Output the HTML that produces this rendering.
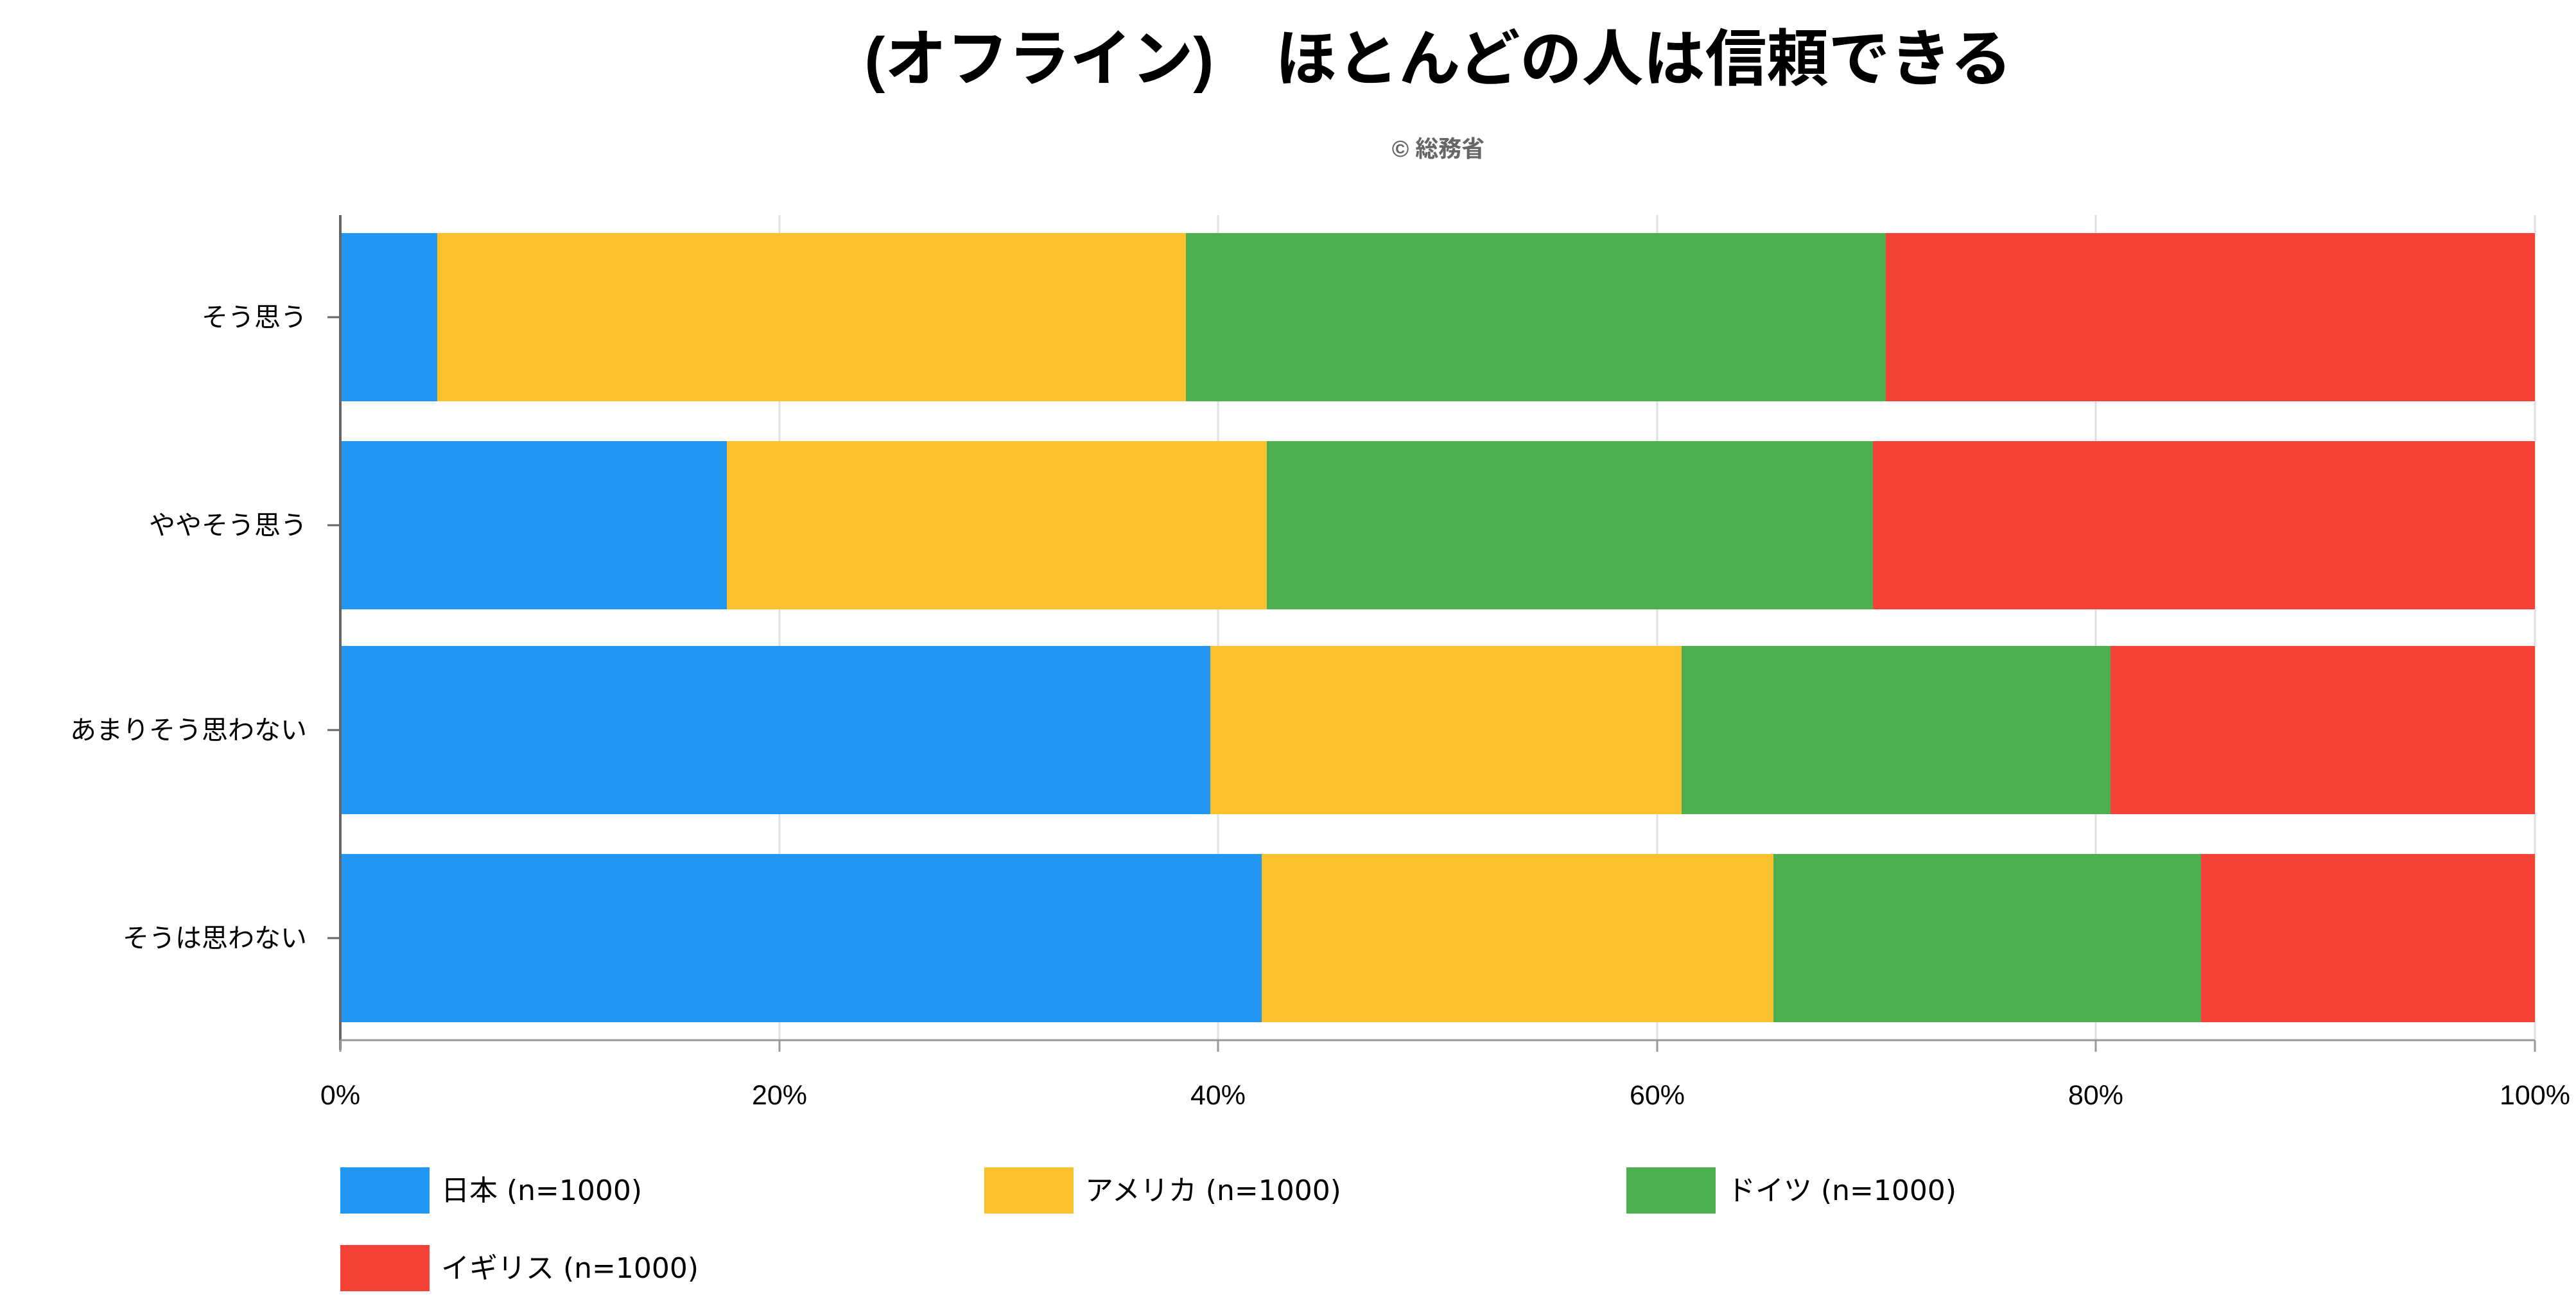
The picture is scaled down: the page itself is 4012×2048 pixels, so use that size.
<!DOCTYPE html>
<html><head><meta charset="utf-8"><style>
html,body{margin:0;padding:0;background:#fff;}
svg{display:block;font-family:"Liberation Sans","Noto Sans CJK JP",sans-serif;}
</style></head><body>
<svg width="4012" height="2048" viewBox="0 0 4012 2048" xmlns="http://www.w3.org/2000/svg">
<rect width="4012" height="2048" fill="#fff"/>
<text x="2240" y="125" text-anchor="middle" font-size="96" font-weight="bold" fill="#000">(オフライン)　ほとんどの人は信頼できる</text>
<text x="2240" y="244" text-anchor="middle" font-size="36" font-weight="bold" fill="#666">© 総務省</text>
<g stroke="#e0e0e0" stroke-width="3">
<line x1="1214" y1="335" x2="1214" y2="1620"/>
<line x1="1897" y1="335" x2="1897" y2="1620"/>
<line x1="2581" y1="335" x2="2581" y2="1620"/>
<line x1="3264" y1="335" x2="3264" y2="1620"/>
<line x1="3948" y1="335" x2="3948" y2="1620"/>
</g>
<g>
<rect x="530" y="363" width="151" height="262" fill="#2196f3"/>
<rect x="681" y="363" width="1166" height="262" fill="#fbc02d"/>
<rect x="1847" y="363" width="1090" height="262" fill="#4caf50"/>
<rect x="2937" y="363" width="1011" height="262" fill="#f44336"/>

<rect x="530" y="687" width="602" height="262" fill="#2196f3"/>
<rect x="1132" y="687" width="841" height="262" fill="#fbc02d"/>
<rect x="1973" y="687" width="944" height="262" fill="#4caf50"/>
<rect x="2917" y="687" width="1031" height="262" fill="#f44336"/>

<rect x="530" y="1006" width="1355" height="262" fill="#2196f3"/>
<rect x="1885" y="1006" width="734" height="262" fill="#fbc02d"/>
<rect x="2619" y="1006" width="668" height="262" fill="#4caf50"/>
<rect x="3287" y="1006" width="661" height="262" fill="#f44336"/>

<rect x="530" y="1330" width="1435" height="262" fill="#2196f3"/>
<rect x="1965" y="1330" width="797" height="262" fill="#fbc02d"/>
<rect x="2762" y="1330" width="666" height="262" fill="#4caf50"/>
<rect x="3428" y="1330" width="520" height="262" fill="#f44336"/>
</g>
<line x1="530" y1="335" x2="530" y2="1635" stroke="#666" stroke-width="4"/>
<line x1="530" y1="1620" x2="3948" y2="1620" stroke="#999" stroke-width="3"/>
<g stroke="#999" stroke-width="3">
<line x1="530" y1="1620" x2="530" y2="1638"/><line x1="1214" y1="1620" x2="1214" y2="1638"/>
<line x1="1897" y1="1620" x2="1897" y2="1638"/><line x1="2581" y1="1620" x2="2581" y2="1638"/>
<line x1="3264" y1="1620" x2="3264" y2="1638"/><line x1="3948" y1="1620" x2="3948" y2="1638"/>
</g>
<g stroke="#666" stroke-width="3">
<line x1="510" y1="494" x2="530" y2="494"/><line x1="510" y1="818" x2="530" y2="818"/>
<line x1="510" y1="1137" x2="530" y2="1137"/><line x1="510" y1="1461" x2="530" y2="1461"/>
</g>
<g font-size="41" fill="#000" text-anchor="end">
<text x="478" y="508">そう思う</text>
<text x="478" y="832">ややそう思う</text>
<text x="478" y="1151">あまりそう思わない</text>
<text x="478" y="1475">そうは思わない</text>
</g>
<g font-size="43" fill="#000" text-anchor="middle">
<text x="530" y="1720">0%</text><text x="1214" y="1720">20%</text>
<text x="1897" y="1720">40%</text><text x="2581" y="1720">60%</text>
<text x="3264" y="1720">80%</text><text x="3948" y="1720">100%</text>
</g>
<g font-size="44" fill="#000" font-family="'DejaVu Sans','Noto Sans CJK JP',sans-serif">
<rect x="530" y="1818" width="139" height="72" fill="#2196f3"/><text x="687" y="1869">日本 (n=1000)</text>
<rect x="1533" y="1818" width="139" height="72" fill="#fbc02d"/><text x="1690" y="1869">アメリカ (n=1000)</text>
<rect x="2533" y="1818" width="139" height="72" fill="#4caf50"/><text x="2690" y="1869">ドイツ (n=1000)</text>
<rect x="530" y="1939" width="139" height="72" fill="#f44336"/><text x="687" y="1990">イギリス (n=1000)</text>
</g>
</svg>
</body></html>
